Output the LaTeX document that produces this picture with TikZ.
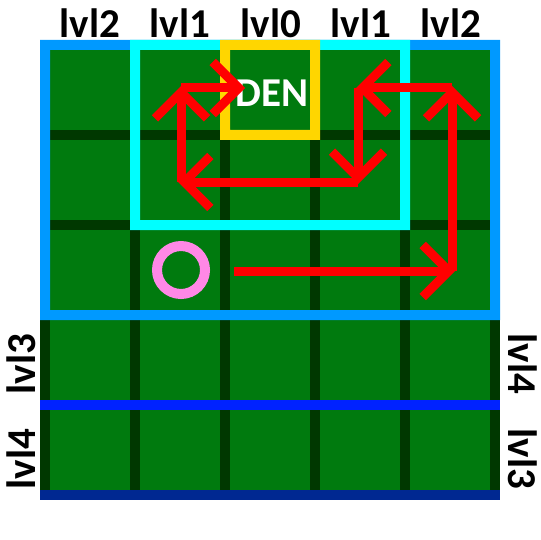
\documentclass[tikz,border=0pt]{standalone}
\usepackage{fontspec}
\setmainfont{Carlito}
\usetikzlibrary{arrows.meta}
\definecolor{cellgreen}{RGB}{0,122,14}
\definecolor{gridline}{RGB}{0,56,0}
\definecolor{lvlblue}{RGB}{0,153,255}
\definecolor{lvlcyan}{RGB}{0,255,255}
\definecolor{denyellow}{RGB}{255,214,0}
\definecolor{lvlthree}{RGB}{0,34,255}
\definecolor{lvlfour}{RGB}{0,40,145}
\definecolor{ringpink}{RGB}{255,136,230}
\tikzset{
  lvltext/.style={font=\fontsize{41}{41}\selectfont\bfseries, text=black, inner sep=0pt, anchor=base},
  dentext/.style={font=\fontsize{41}{41}\selectfont\bfseries, text=white, inner sep=0pt, anchor=base},
  redarrow/.style={draw=red, line width=9pt, line join=miter,
    -{Straight Barb[length=26pt, width=52pt]}},
  ring/.style={draw=ringpink, line width=10pt}
}
\begin{document}
\begin{tikzpicture}[x=1pt, y=-1pt]
\useasboundingbox (0,0) rectangle (540,540);
\fill[white] (0,0) rectangle (540,540);
% grid
\fill[gridline] (40,40) rectangle (500,500);
\foreach \i in {0,...,4} {
  \foreach \j in {0,...,4} {
    \fill[cellgreen] (50+90*\i, 50+90*\j) rectangle (130+90*\i, 130+90*\j);
  }
}
% level frames
\fill[lvlblue, even odd rule] (40,40) rectangle (500,320) (50,50) rectangle (490,310);
\fill[lvlcyan, even odd rule] (130,40) rectangle (410,230) (140,50) rectangle (400,220);
\fill[denyellow, even odd rule] (220,40) rectangle (320,140) (230,50) rectangle (310,130);
\fill[lvlthree] (40,400) rectangle (500,410);
\fill[lvlfour] (40,490) rectangle (500,500);
% labels
\node[lvltext] (t1) at (90,38) {lvl2};
\node[lvltext] (t2) at (180,38) {lvl1};
\node[lvltext] (t3) at (271,38) {lvl0};
\node[lvltext] (t4) at (361,38) {lvl1};
\node[lvltext] (t5) at (451,38) {lvl2};
\node[lvltext, rotate=90] (l3) at (35,364) {lvl3};
\node[lvltext, rotate=90] (l4) at (35,459) {lvl4};
\node[lvltext, rotate=-90] (r4) at (508,364) {lvl4};
\node[lvltext, rotate=-90] (r3) at (508,459) {lvl3};
\node[dentext] (den) at (272,107) {DEN};
% ring
\node[circle, minimum size=48pt, inner sep=0pt, ring] (pos) at (181,270) {};
% path
\coordinate (A) at (234,271);
\coordinate (B) at (455,271);
\coordinate (B2) at (452,271);
\coordinate (C) at (452,86);
\coordinate (C2) at (452,88);
\coordinate (D) at (356,88);
\coordinate (D2) at (358,88);
\coordinate (E) at (358,184);
\coordinate (E2) at (358,182);
\coordinate (F) at (178,182);
\coordinate (F2) at (181,182);
\coordinate (G) at (181,86);
\coordinate (G2) at (181,88);
\coordinate (H) at (245,88);
\draw[redarrow] (A) -- (B);
\draw[redarrow] (B2) -- (C);
\draw[redarrow] (C2) -- (D);
\draw[redarrow] (D2) -- (E);
\draw[redarrow] (E2) -- (F);
\draw[redarrow] (F2) -- (G);
\draw[redarrow] (G2) -- (H);
\end{tikzpicture}
\end{document}
